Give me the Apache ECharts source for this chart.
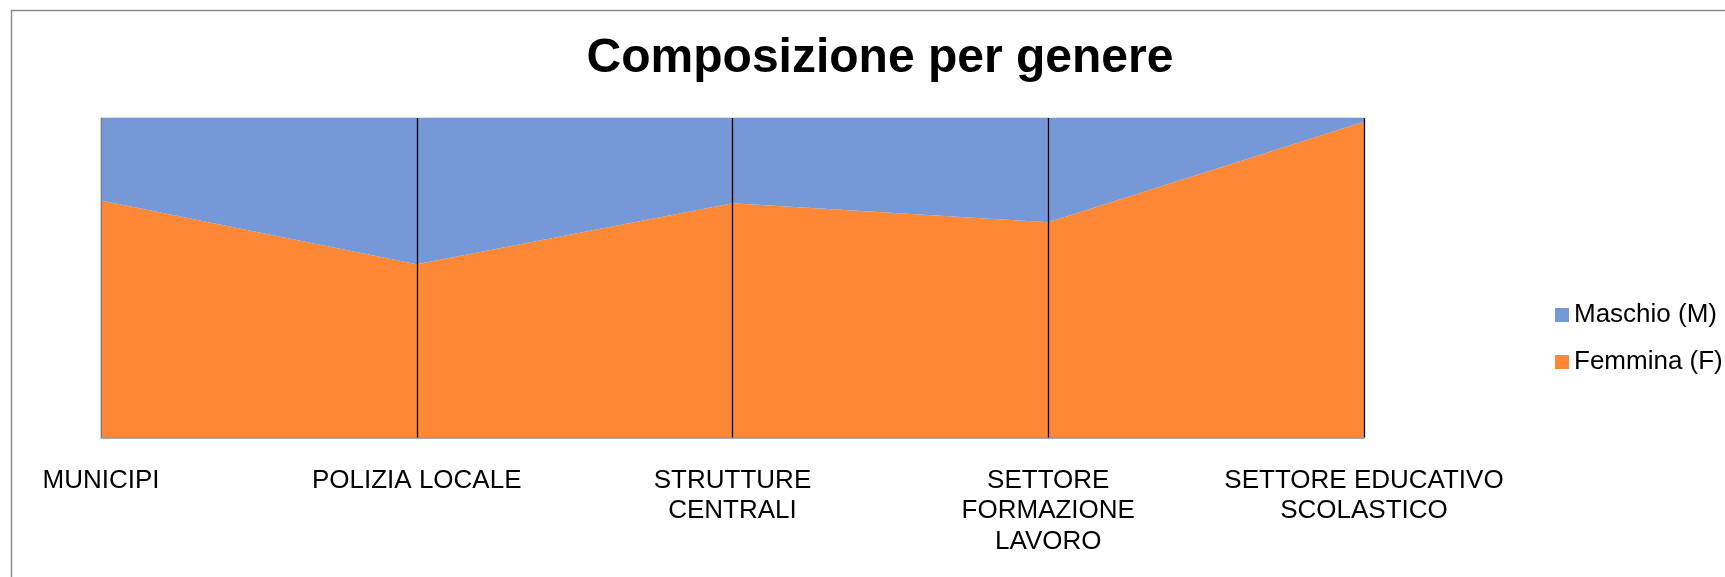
<!DOCTYPE html>
<html>
<head>
<meta charset="utf-8">
<script src="https://cdn.jsdelivr.net/npm/echarts@6/dist/echarts.min.js"></script>
<style>html,body{margin:0;padding:0;background:#fff}#c{width:1725px;height:577px}</style>
</head>
<body>
<div id="c"></div>
<script>
const titleText = 'Composizione per genere';
const categories = ['MUNICIPI', 'POLIZIA LOCALE', 'STRUTTURE\nCENTRALI', 'SETTORE\nFORMAZIONE\nLAVORO', 'SETTORE EDUCATIVO\nSCOLASTICO'];
const femmina = [74.2, 54.2, 73.3, 67.4, 98.8];
const maschio = [25.8, 45.8, 26.7, 32.6, 1.2];
const seriesNames = ['Maschio (M)', 'Femmina (F)'];

const FONT = 'Liberation Sans, Arial, sans-serif';
const dropLines = categories.map((c, i) => ({
  xAxis: i,
  lineStyle: {color: i === 0 ? '#808080' : '#000', width: 1.3, type: 'solid'}
}));

const chart = echarts.init(document.getElementById('c'), null, {renderer: 'canvas'});
chart.setOption({
  animation: false,
  backgroundColor: '#fff',
  title: {
    text: titleText,
    left: 875,
    top: 30,
    textAlign: 'center',
    textStyle: {fontFamily: FONT, fontSize: 48, fontWeight: 'bold', color: '#000'}
  },
  graphic: [{
    type: 'rect',
    shape: {x: 11.5, y: 10.5, width: 1800, height: 700},
    style: {fill: 'none', stroke: '#8c8c8c', lineWidth: 1.5},
    silent: true
  }],
  legend: {
    orient: 'vertical',
    left: 1550,
    top: 297,
    data: seriesNames,
    icon: 'rect',
    itemWidth: 14,
    itemHeight: 14,
    itemGap: 21,
    textStyle: {fontFamily: FONT, fontSize: 26, color: '#000'}
  },
  grid: {
    left: 101, top: 118, width: 1263, height: 319.5,
    show: true, borderColor: '#bdbdbd', borderWidth: 1, containLabel: false
  },
  xAxis: {
    type: 'category',
    data: categories,
    boundaryGap: false,
    axisLine: {show: true, lineStyle: {color: '#8c8c8c', width: 1.5}},
    axisTick: {show: false},
    axisLabel: {
      interval: 0, hideOverlap: false, margin: 28,
      fontFamily: FONT, fontSize: 26, lineHeight: 30.5, color: '#000', align: 'center'
    },
    splitLine: {show: false}
  },
  yAxis: {
    type: 'value', min: 0, max: 100,
    axisLine: {show: true, lineStyle: {color: '#8c8c8c'}},
    axisLabel: {show: false},
    axisTick: {show: false},
    splitLine: {show: false}
  },
  series: [
    {
      name: seriesNames[1], type: 'line', stack: 'g', data: femmina,
      symbol: 'none', lineStyle: {width: 0},
      areaStyle: {color: '#FF8836', opacity: 1}, itemStyle: {color: '#FF8836'}
    },
    {
      name: seriesNames[0], type: 'line', stack: 'g', data: maschio,
      symbol: 'none', lineStyle: {width: 0},
      areaStyle: {color: '#7598D6', opacity: 1}, itemStyle: {color: '#7598D6'},
      markLine: {
        silent: true, animation: false,
        symbol: ['none', 'none'],
        label: {show: false},
        emphasis: {disabled: true},
        data: dropLines
      }
    }
  ]
});
</script>
</body>
</html>
